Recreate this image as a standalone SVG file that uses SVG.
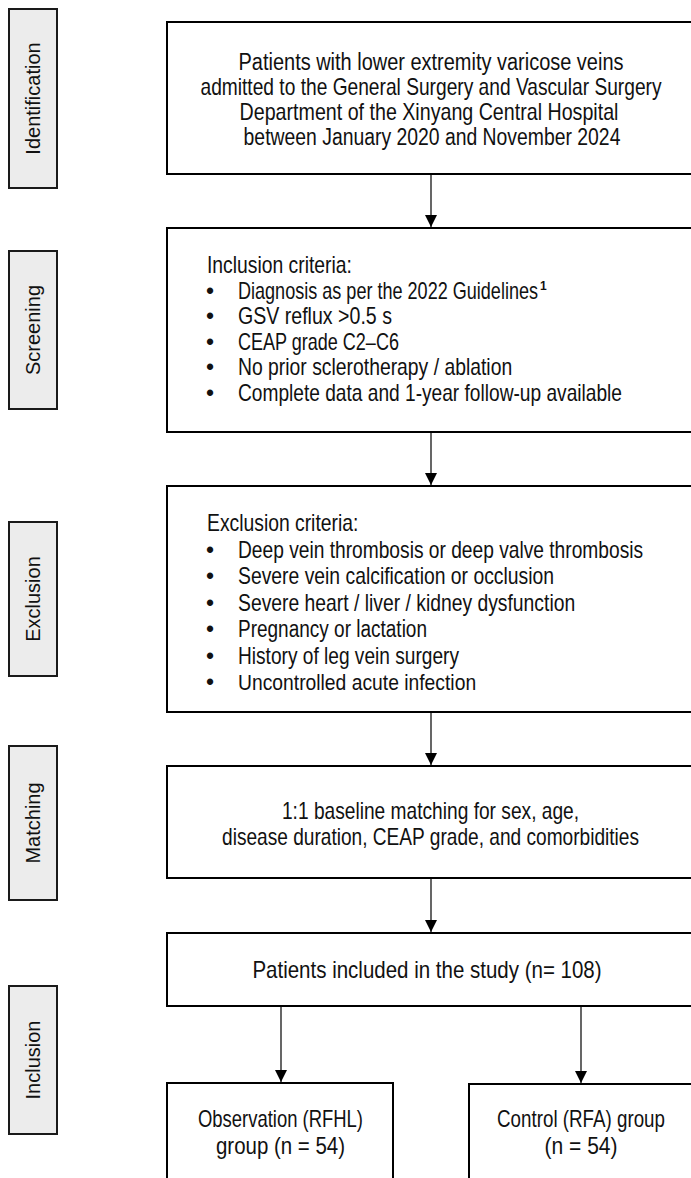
<svg xmlns="http://www.w3.org/2000/svg" width="691" height="1178" viewBox="0 0 691 1178">
<style>
.lab{fill:#ececec;stroke:#1a1a1a;stroke-width:2}
.labt{font-family:"Liberation Sans",Arial,sans-serif;font-size:20px;fill:#111;text-anchor:middle}
.box{fill:#fff;stroke:#000;stroke-width:2}
.t{font-family:"Liberation Sans",Arial,sans-serif;font-size:23px;fill:#111}
.c{text-anchor:middle}
.ln{stroke:#000;stroke-width:1.2;fill:none}
.sup{font-family:"Liberation Sans",Arial,sans-serif;font-size:12px;font-weight:bold;fill:#111}
</style>
<defs>
<marker id="ah" markerWidth="12" markerHeight="12" refX="12" refY="6" orient="auto" markerUnits="userSpaceOnUse">
<path d="M0,0 L12,6 L0,12 Z" fill="#000"/>
</marker>
</defs>
<g id="label-identification"><rect class="lab" x="9" y="9" width="48" height="179"/><text class="labt" transform="translate(40,98.5) rotate(-90)">Identification</text></g>
<g id="label-screening"><rect class="lab" x="9" y="251" width="48" height="158"/><text class="labt" transform="translate(40,330) rotate(-90)">Screening</text></g>
<g id="label-exclusion"><rect class="lab" x="9" y="522" width="48" height="154"/><text class="labt" transform="translate(40,599) rotate(-90)">Exclusion</text></g>
<g id="label-matching"><rect class="lab" x="9" y="746" width="48" height="154"/><text class="labt" transform="translate(40,823) rotate(-90)">Matching</text></g>
<g id="label-inclusion"><rect class="lab" x="9" y="986" width="48" height="148"/><text class="labt" transform="translate(40,1060) rotate(-90)">Inclusion</text></g>

<g id="identification">
<rect class="box" x="167" y="22" width="526" height="152"/>
<text class="t c" transform="translate(431,70) scale(0.868,1)" textLength="443.5" lengthAdjust="spacingAndGlyphs">Patients with lower extremity varicose veins</text>
<text class="t c" transform="translate(431,95) scale(0.831,1)" textLength="554.8" lengthAdjust="spacingAndGlyphs">admitted to the General Surgery and Vascular Surgery</text>
<text class="t c" transform="translate(429,120) scale(0.854,1)" textLength="443.6" lengthAdjust="spacingAndGlyphs">Department of the Xinyang Central Hospital</text>
<text class="t c" transform="translate(432,145) scale(0.842,1)" textLength="447.5" lengthAdjust="spacingAndGlyphs">between January 2020 and November 2024</text>
</g>

<g id="screening">
<rect class="box" x="167" y="228" width="526" height="204"/>
<text class="t" transform="translate(207,273) scale(0.84,1)" textLength="172.5" lengthAdjust="spacingAndGlyphs">Inclusion criteria:</text>
<text class="t" x="206" y="299">•</text><text class="t" transform="translate(238,299) scale(0.785,1)" textLength="382.2" lengthAdjust="spacingAndGlyphs">Diagnosis as per the 2022 Guidelines</text><text class="sup" x="540" y="290">1</text>
<text class="t" x="206" y="324">•</text><text class="t" transform="translate(238,324) scale(0.851,1)" textLength="180.9" lengthAdjust="spacingAndGlyphs">GSV reflux &gt;0.5 s</text>
<text class="t" x="206" y="350">•</text><text class="t" transform="translate(238,350) scale(0.782,1)" textLength="205.8" lengthAdjust="spacingAndGlyphs">CEAP grade C2–C6</text>
<text class="t" x="206" y="375">•</text><text class="t" transform="translate(238,375) scale(0.841,1)" textLength="326" lengthAdjust="spacingAndGlyphs">No prior sclerotherapy / ablation</text>
<text class="t" x="206" y="401">•</text><text class="t" transform="translate(238,401) scale(0.832,1)" textLength="461.5" lengthAdjust="spacingAndGlyphs">Complete data and 1-year follow-up available</text>
</g>

<g id="exclusion">
<rect class="box" x="167" y="486" width="526" height="226"/>
<text class="t" transform="translate(207,531) scale(0.84,1)" textLength="180.2" lengthAdjust="spacingAndGlyphs">Exclusion criteria:</text>
<text class="t" x="206" y="557.5">•</text><text class="t" transform="translate(238,557.5) scale(0.834,1)" textLength="485.7" lengthAdjust="spacingAndGlyphs">Deep vein thrombosis or deep valve thrombosis</text>
<text class="t" x="206" y="584">•</text><text class="t" transform="translate(238,584) scale(0.841,1)" textLength="375.8" lengthAdjust="spacingAndGlyphs">Severe vein calcification or occlusion</text>
<text class="t" x="206" y="610.5">•</text><text class="t" transform="translate(238,610.5) scale(0.84,1)" textLength="401.4" lengthAdjust="spacingAndGlyphs">Severe heart / liver / kidney dysfunction</text>
<text class="t" x="206" y="637">•</text><text class="t" transform="translate(238,637) scale(0.826,1)" textLength="228.8" lengthAdjust="spacingAndGlyphs">Pregnancy or lactation</text>
<text class="t" x="206" y="663.5">•</text><text class="t" transform="translate(238,663.5) scale(0.831,1)" textLength="265.9" lengthAdjust="spacingAndGlyphs">History of leg vein surgery</text>
<text class="t" x="206" y="690">•</text><text class="t" transform="translate(238,690) scale(0.839,1)" textLength="283.8" lengthAdjust="spacingAndGlyphs">Uncontrolled acute infection</text>
</g>

<g id="matching">
<rect class="box" x="167" y="766" width="526" height="112"/>
<text class="t c" transform="translate(430.5,819) scale(0.833,1)" textLength="356.7" lengthAdjust="spacingAndGlyphs">1:1 baseline matching for sex, age,</text>
<text class="t c" transform="translate(430.5,845) scale(0.83,1)" textLength="502.4" lengthAdjust="spacingAndGlyphs">disease duration, CEAP grade, and comorbidities</text>
</g>

<g id="included">
<rect class="box" x="167" y="933" width="526" height="73"/>
<text class="t c" transform="translate(427,978) scale(0.891,1)" textLength="391.9" lengthAdjust="spacingAndGlyphs">Patients included in the study (n= 108)</text>
</g>

<g id="observation">
<rect class="box" x="167" y="1083" width="226" height="110"/>
<text class="t c" transform="translate(280.5,1127) scale(0.802,1)" textLength="205.8" lengthAdjust="spacingAndGlyphs">Observation (RFHL)</text>
<text class="t c" transform="translate(280.5,1154) scale(0.889,1)" textLength="145.1" lengthAdjust="spacingAndGlyphs">group (n = 54)</text>
</g>

<g id="control">
<rect class="box" x="469" y="1084" width="224" height="110"/>
<text class="t c" transform="translate(581,1127) scale(0.811,1)" textLength="207" lengthAdjust="spacingAndGlyphs">Control (RFA) group</text>
<text class="t c" transform="translate(581,1154) scale(0.914,1)" textLength="79.9" lengthAdjust="spacingAndGlyphs">(n = 54)</text>
</g>

<g id="connectors">
<line class="ln" x1="431" y1="174" x2="431" y2="227" marker-end="url(#ah)"/>
<line class="ln" x1="431" y1="432" x2="431" y2="485" marker-end="url(#ah)"/>
<line class="ln" x1="431" y1="712" x2="431" y2="765" marker-end="url(#ah)"/>
<line class="ln" x1="431" y1="878" x2="431" y2="932" marker-end="url(#ah)"/>
<line class="ln" x1="281" y1="1006" x2="281" y2="1082" marker-end="url(#ah)"/>
<line class="ln" x1="581" y1="1006" x2="581" y2="1083" marker-end="url(#ah)"/>
</g>
</svg>
